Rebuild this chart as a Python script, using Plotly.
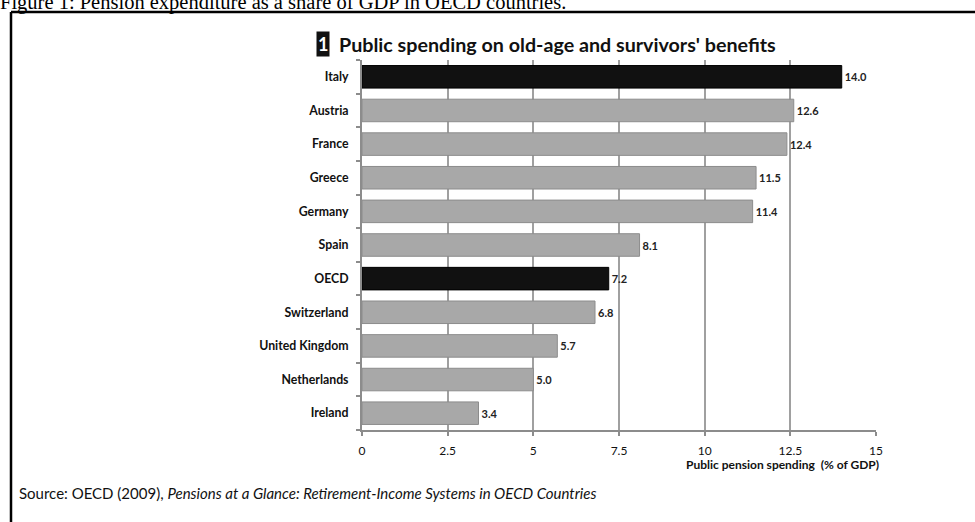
import plotly.graph_objects as go

# Public pension spending, % of GDP (top to bottom)
countries = ["Italy", "Austria", "France", "Greece", "Germany", "Spain", "OECD",
             "Switzerland", "United Kingdom", "Netherlands", "Ireland"]
spending = [14.0, 12.6, 12.4, 11.5, 11.4, 8.1, 7.2, 6.8, 5.7, 5.0, 3.4]
highlight = ["Italy", "OECD"]

x_ticks = [0, 2.5, 5, 7.5, 10, 12.5, 15]
x_tick_labels = ["0", "2.5", "5", "7.5", "10", "12.5", "15"]

bar_colors = ["#111111" if c in highlight else "#a8a8a8" for c in countries]
line_colors = ["#000000" if c in highlight else "#8c8c8c" for c in countries]

W, H = 975, 522
L, R, T, B = 362, 99, 60, 92
pw, ph = W - L - R, H - T - B


def px(x):
    return (x - L) / pw


def py(y):
    return (H - B - y) / ph


fig = go.Figure(
    go.Bar(
        x=spending,
        y=countries,
        orientation="h",
        marker=dict(color=bar_colors, line=dict(color=line_colors, width=1)),
        text=[f"{v:.1f}" for v in spending],
        textposition="outside",
        cliponaxis=False,
        textfont=dict(family="Lato", size=11, color="#222222", weight="bold"),
        hoverinfo="skip",
    )
)

fig.update_layout(
    width=W,
    height=H,
    margin=dict(l=L, r=R, t=T, b=B),
    paper_bgcolor="white",
    plot_bgcolor="white",
    showlegend=False,
    bargap=0.33,
    font=dict(family="Lato", color="#111111"),
)

fig.update_yaxes(
    categoryorder="array",
    categoryarray=countries[::-1],
    showline=True,
    linecolor="#8c8c8c",
    linewidth=2,
    ticks="outside",
    tickson="boundaries",
    ticklen=4,
    tickcolor="#8c8c8c",
    tickwidth=2,
    showgrid=False,
    tickfont=dict(family="Lato", size=12.3, color="#111111", weight="bold"),
    ticklabelstandoff=9,
)

fig.update_xaxes(
    range=[0, 15],
    tickvals=x_ticks,
    ticktext=x_tick_labels,
    showline=True,
    linecolor="#8c8c8c",
    linewidth=2,
    ticks="outside",
    ticklen=4,
    tickcolor="#8c8c8c",
    tickwidth=2,
    showgrid=True,
    gridcolor="#a0a0a0",
    gridwidth=1.5,
    zeroline=False,
    tickfont=dict(family="Lato", size=12, color="#111111"),
    ticklabelstandoff=5,
)

annotations = [
    # figure caption, partly above the page edge
    dict(text="Figure 1: Pension expenditure as a share of GDP in OECD countries.",
         x=px(-2), y=py(2), xref="paper", yref="paper", xanchor="left", yanchor="middle",
         showarrow=False, font=dict(family="Liberation Serif", size=20.5, color="#000000")),
    # panel number badge
    dict(text="<b>1</b>", x=px(323), y=py(44), xref="paper", yref="paper",
         xanchor="center", yanchor="middle", showarrow=False, bgcolor="#111111",
         borderpad=1, font=dict(family="Lato", size=18, color="white")),
    dict(text="<b>Public spending on old-age and survivors' benefits</b>",
         x=px(337), y=py(44), xref="paper", yref="paper", xanchor="left", yanchor="middle",
         showarrow=False, font=dict(family="Lato", size=19.7, color="#111111")),
    dict(text="<b>Public pension spending  (% of GDP)</b>",
         x=px(881), y=py(464), xref="paper", yref="paper", xanchor="right", yanchor="middle",
         showarrow=False, font=dict(family="Lato", size=12, color="#111111")),
    dict(text="Source: OECD (2009), <i>Pensions at a Glance: Retirement-Income Systems in OECD Countries</i>",
         x=px(17), y=py(493), xref="paper", yref="paper", xanchor="left", yanchor="middle",
         showarrow=False, font=dict(family="Lato", size=15, color="#111111")),
]
fig.update_layout(annotations=annotations)

# outer frame (continues past the right and bottom edges)
fig.add_shape(type="line", xref="paper", yref="paper",
              x0=px(11), y0=py(12), x1=px(1000), y1=py(12),
              line=dict(color="black", width=2.5))
fig.add_shape(type="line", xref="paper", yref="paper",
              x0=px(11), y0=py(12), x1=px(11), y1=py(540),
              line=dict(color="black", width=2.5))

fig.write_html("out.html")
